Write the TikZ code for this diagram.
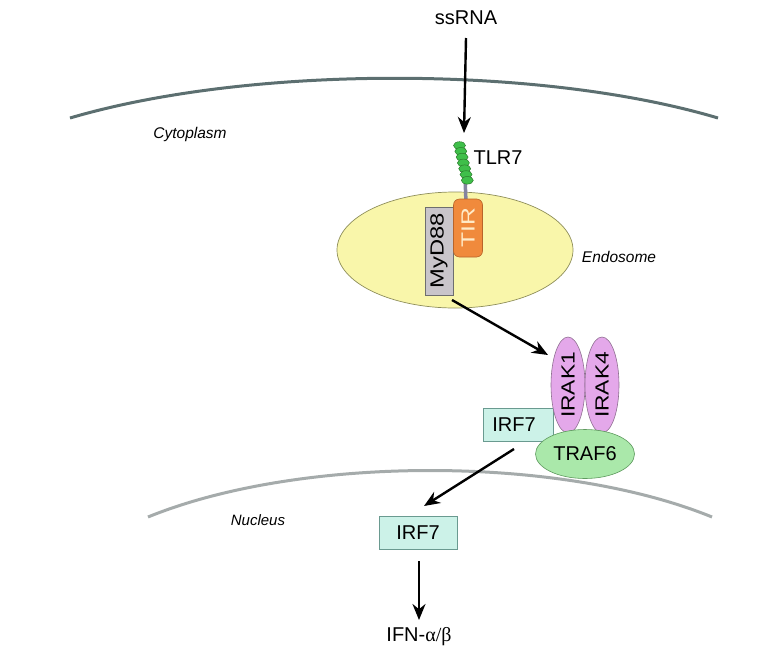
\documentclass[tikz,border=0pt]{standalone}
\usepackage{fontspec}
\setmainfont{Liberation Sans}
\newfontfamily\grk{Liberation Serif}
\usetikzlibrary{arrows.meta,shapes.geometric}
\definecolor{membr}{HTML}{5C6F70}
\definecolor{nucl}{HTML}{A5ABAB}
\definecolor{endofill}{HTML}{F9F6AA}
\definecolor{endodraw}{HTML}{8E8E5A}
\definecolor{tirfill}{HTML}{F08A3C}
\definecolor{tirdraw}{HTML}{B8642A}
\definecolor{tirtext}{HTML}{FFEBC8}
\definecolor{myfill}{HTML}{C9C5CA}
\definecolor{mydraw}{HTML}{6E6E6E}
\definecolor{irakfill}{HTML}{E4A8EA}
\definecolor{irakdraw}{HTML}{8E6E90}
\definecolor{irffill}{HTML}{CCF2E8}
\definecolor{irfdraw}{HTML}{6A9A90}
\definecolor{traffill}{HTML}{AAE8AA}
\definecolor{trafdraw}{HTML}{5E9A5E}
\definecolor{beadfill}{HTML}{3FBF4A}
\definecolor{beaddraw}{HTML}{2A7A2A}
\definecolor{stemcol}{HTML}{8484A0}
\newcommand{\fsz}[1]{\fontsize{#1}{#1}\selectfont}
\tikzset{
  lbl/.style={font=\fsz{20}, inner sep=0pt},
  itlbl/.style={font=\fsz{15.5}\itshape, inner sep=0pt},
  arr/.style={line width=2.4pt, -{Stealth[length=16pt,width=13pt]}},
  irfbox/.style={draw=irfdraw, fill=irffill, line width=0.6pt, minimum width=70pt, minimum height=33pt, inner sep=0pt, font=\fsz{20}},
  irak/.style={ellipse, draw=irakdraw, fill=irakfill, line width=0.6pt, minimum width=34pt, minimum height=96pt, inner sep=0pt},
  bead/.style={draw=beaddraw, fill=beadfill, line width=0.5pt},
}
\begin{document}
\begin{tikzpicture}[x=1pt,y=-1pt]
\useasboundingbox (0,0) rectangle (782,662);
% membranes
\draw[membr, line width=3pt] (70,118) .. controls (250,65) and (540,65) .. (718,118);
\draw[nucl, line width=3pt] (148,517) .. controls (300,455) and (560,455) .. (712,517);
% labels
\node[lbl] (ssrna) at (466,18) {ssRNA};
\node[itlbl] (cyto) at (190,134) {Cytoplasm};
\node[itlbl] (endo) at (619,257) {Endosome};
\node[itlbl, font=\fsz{15}\itshape] (nuc) at (258,520) {Nucleus};
% endosome
\node[ellipse, draw=endodraw, fill=endofill, line width=0.7pt, minimum width=236pt, minimum height=116pt, inner sep=0pt] (endosome) at (455,250) {};
% TLR7 stem and coil
\draw[stemcol, line width=3.5pt] (464,150) -- (466,203);
\foreach \i in {0,...,6} {
  \pgfmathsetmacro{\bx}{459.5+1.3*\i}
  \pgfmathsetmacro{\by}{145.5+5.8*\i}
  \draw[bead] (\bx,\by) ellipse (6pt and 3.8pt);
}
\coordinate (coil) at (464,133);
\node[lbl] (tlr7) at (498,158) {TLR7};
% MyD88 and TIR
\node[draw=mydraw, fill=myfill, line width=0.6pt, minimum width=28pt, minimum height=88pt, inner sep=0pt] (myd88) at (439,251) {};
\node[rotate=90, font=\fsz{19}] at (myd88.center) {\scalebox{1.25}[1]{MyD88}};
\node[draw=tirdraw, fill=tirfill, rounded corners=6pt, line width=0.6pt, minimum width=29pt, minimum height=58pt, inner sep=0pt] (tir) at (468,228) {};
\node[rotate=90, font=\fsz{19}, text=tirtext] at (tir.center) {\scalebox{1.3}[1]{TIR}};
% complex
\node[irfbox] (irf7a) at (518,425) {\hspace*{-8pt}IRF7};
\node[irak] (irak1) at (568,385) {};
\node[rotate=90, font=\fsz{19}] at (irak1.center) {\scalebox{1.2}[1]{IRAK1}};
\node[irak] (irak4) at (602,385) {};
\node[rotate=90, font=\fsz{19}] at (irak4.center) {\scalebox{1.2}[1]{IRAK4}};
\node[ellipse, draw=trafdraw, fill=traffill, line width=0.6pt, minimum width=99pt, minimum height=49pt, inner sep=0pt, font=\fsz{20}] (traf6) at (585,454) {TRAF6};
% nucleus
\node[irfbox, minimum width=78pt] (irf7b) at (418,533) {IRF7};
\node[lbl] (ifn) at (419,637) {IFN-{\grk α/β}};
% arrows
\coordinate (ssstart) at (466,38);
\draw[arr] (ssstart) -- (coil);
\coordinate (mystart) at (452,300);
\coordinate (irakin) at (548,355);
\draw[arr] (mystart) -- (irakin);
\coordinate (irfout) at (514,449);
\coordinate (irfin) at (424,506);
\draw[arr] (irfout) -- (irfin);
\coordinate (ifnstart) at (419,561);
\coordinate (ifnin) at (419,620);
\draw[arr] (ifnstart) -- (ifnin);
\end{tikzpicture}
\end{document}
